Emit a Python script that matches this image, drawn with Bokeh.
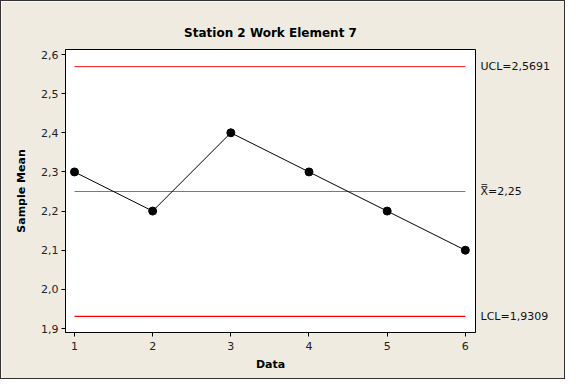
from bokeh.plotting import figure
from bokeh.models import Range1d, FixedTicker, LinearAxis, CustomJSTickFormatter
from bokeh.embed import file_html
from bokeh.resources import INLINE

# Data
samples = [1, 2, 3, 4, 5, 6]
means = [2.3, 2.2, 2.4, 2.3, 2.2, 2.1]
ucl = 2.5691
center = 2.25
lcl = 1.9309
ucl_text = "UCL=2,5691"
center_text = "X\u033f=2,25"
lcl_text = "LCL=1,9309"
y_ticks = [1.9, 2.0, 2.1, 2.2, 2.3, 2.4, 2.5, 2.6]
x_ticks = [1, 2, 3, 4, 5, 6]

BG = "#efebe1"
FONT = "DejaVu Sans"

p = figure(width=565, height=379, output_backend="svg", toolbar_location=None,
           x_range=Range1d(0.885, 6.13), y_range=Range1d(1.8898, 2.6128),
           min_border_left=64, min_border_right=91, min_border_top=48, min_border_bottom=48,
           title="Station 2 Work Element 7")
p.styles = {"border": "1px solid #333333"}
p.background_fill_color = "white"
p.border_fill_color = BG
p.outline_line_color = "black"
p.outline_line_width = 1
p.grid.visible = False

p.title.align = "center"
p.title.text_font = FONT
p.title.text_font_size = "12px"
p.title.text_font_style = "bold"
p.title.text_color = "black"
p.title.offset = 0
p.title.standoff = 19

for ax in (p.xaxis[0], p.yaxis[0]):
    ax.axis_line_color = "black"
    ax.major_tick_line_color = "black"
    ax.major_tick_out = 4
    ax.major_tick_in = 0
    ax.minor_tick_line_color = None
    ax.major_label_text_font = FONT
    ax.major_label_text_font_size = "11px"
    ax.major_label_text_color = "#222222"
    ax.axis_label_text_font = FONT
    ax.axis_label_text_font_size = "11px"
    ax.axis_label_text_font_style = "bold"
    ax.axis_label_text_color = "black"

p.xaxis.ticker = FixedTicker(ticks=x_ticks)
p.yaxis.ticker = FixedTicker(ticks=y_ticks)
p.yaxis.formatter = CustomJSTickFormatter(code="return tick.toFixed(1).replace('.', ',');")
p.xaxis.axis_label = "Data"
p.yaxis.axis_label = "Sample Mean"
p.xaxis.axis_label_standoff = 5
p.yaxis.axis_label_standoff = 10
p.xaxis.major_label_standoff = 5
p.yaxis.major_label_standoff = 3

# Right-hand control limit labels via an extra axis
rax = LinearAxis(ticker=FixedTicker(ticks=[lcl, center, ucl]))
rax.major_label_overrides = {lcl: lcl_text, center: center_text, ucl: ucl_text}
rax.axis_line_color = None
rax.major_tick_line_color = None
rax.minor_tick_line_color = None
rax.major_tick_out = 0
rax.major_tick_in = 0
rax.major_label_standoff = 5
rax.major_label_text_font = FONT
rax.major_label_text_font_size = "11px"
rax.major_label_text_color = "#111111"
p.add_layout(rax, "right")

x0, x1 = samples[0], samples[-1]
p.line([x0, x1], [ucl, ucl], line_color="#ff1a1a", line_width=1)
p.line([x0, x1], [lcl, lcl], line_color="#ff0000", line_width=1.3)
p.line([x0, x1], [center, center], line_color="#00cc00", line_width=1)

p.line(samples, means, line_color="black", line_width=1)
p.scatter(samples, means, size=8, marker="circle", fill_color="black", line_color="black")

open("out.html", "w").write(file_html(p, INLINE))
